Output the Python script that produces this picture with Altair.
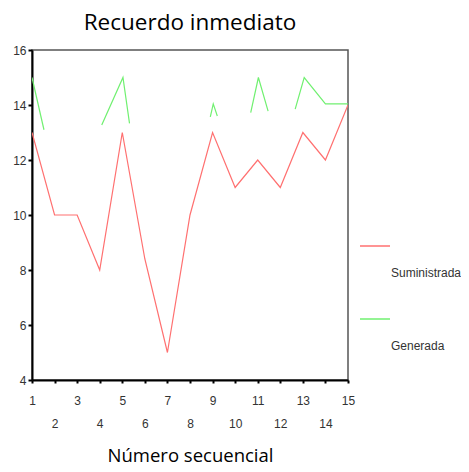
import altair as alt
import pandas as pd

seq = list(range(1, 16))
suministrada = [13, 10, 10, 8, 13, 8.4, 5, 10, 13, 11, 12, 11, 13, 12, 14]

gen_x = [1, 1.53, 4.09, 5.03, 5.32, 8.9, 9.03, 9.21, 10.69, 11.03, 11.46, 12.66, 13.06, 14, 15]
gen_y = [15, 13.1, 13.27, 15, 13.33, 13.57, 14.04, 13.6, 13.72, 15, 13.78, 13.85, 15, 14.04, 14.04]
gen_seg = [1, 1, 2, 2, 2, 3, 3, 3, 4, 4, 4, 5, 5, 5, 5]

series = ["Suministrada", "Generada"]
colors = ["#ff7070", "#70f070"]
y_ticks = [4, 6, 8, 10, 12, 14, 16]

rows = []
for x, y in zip(seq, suministrada):
    rows.append({"serie": "Suministrada", "x": x, "y": y, "seg": "s0"})
for x, y, s in zip(gen_x, gen_y, gen_seg):
    rows.append({"serie": "Generada", "x": x, "y": y, "seg": f"g{s}"})
df = pd.DataFrame(rows)

chart = alt.Chart(df).mark_line(strokeWidth=1.2, clip=True).encode(
    x=alt.X("x:Q",
            scale=alt.Scale(domain=[1, 15], nice=False, zero=False),
            axis=alt.Axis(values=seq, title="Número secuencial",
                          labelExpr="datum.value % 2 == 1 ? datum.label : ['', datum.label]",
                          labelLineHeight=23, labelFlush=False, labelOverlap=False,
                          labelPadding=12, tickSize=3, grid=False,
                          titlePadding=17, titleFontSize=18.5, titleFont="Open Sans",
                          titleFontWeight="normal", titleColor="#000")),
    y=alt.Y("y:Q",
            scale=alt.Scale(domain=[4, 16], nice=False, zero=False),
            axis=alt.Axis(values=y_ticks, title=None, tickSize=4, grid=False,
                          labelPadding=2)),
    color=alt.Color("serie:N",
                    scale=alt.Scale(domain=series, range=colors),
                    legend=alt.Legend(title=None, orient="none", legendX=327, legendY=180,
                                      direction="vertical", symbolType="stroke",
                                      symbolSize=900, symbolStrokeWidth=1.5,
                                      labelBaseline="middle",
                                      labelExpr="['', datum.label]",
                                      labelOffset=0,
                                      rowPadding=24, labelFont="Liberation Sans",
                                      labelFontSize=12, labelColor="#333")),
    detail="seg:N",
).properties(
    width=316, height=330,
    autosize="none",
    padding={"left": 24, "top": 42, "right": 113, "bottom": 84},
    title=alt.TitleParams("Recuerdo inmediato", fontSize=22.5, font="Open Sans",
                          fontWeight="normal", anchor="middle", color="#000", offset=10),
).configure(
    style={"guide-label": {"lineHeight": 27}}
).configure_view(
    stroke="#555", strokeWidth=1.5
).configure_axis(
    domainColor="#000", domainWidth=2, tickColor="#000", tickWidth=2,
    labelFont="Liberation Sans", labelFontSize=12, labelColor="#333"
)

chart.save("out.html", embed_options={"renderer": "svg", "actions": False})
